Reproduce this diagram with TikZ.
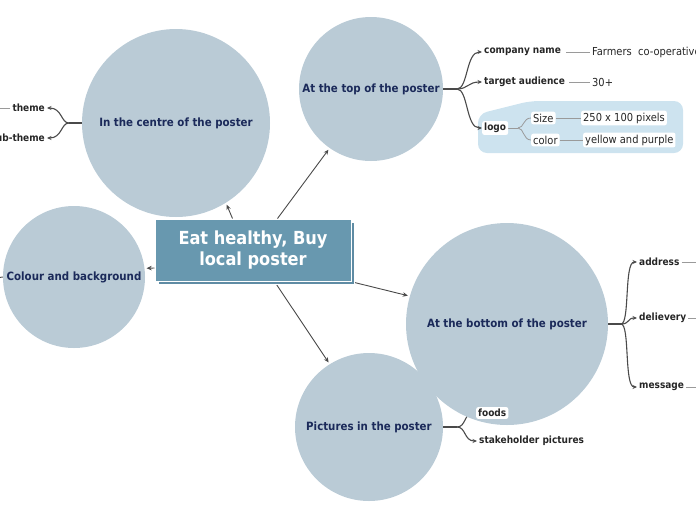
\documentclass[tikz,border=0pt]{standalone}
\usepackage{fontspec}
\setmainfont{DejaVu Sans Condensed}
\usetikzlibrary{arrows.meta}
\definecolor{circ}{HTML}{BACBD6}
\definecolor{navy}{HTML}{1B2A5A}
\definecolor{boxc}{HTML}{6898AF}
\definecolor{boxsh}{HTML}{5F8CA4}
\definecolor{logobg}{HTML}{CDE3EF}
\definecolor{dk}{HTML}{4A4A4A}
\definecolor{gl}{HTML}{9A9A9A}
\pgfdeclarelayer{back}
\pgfdeclarelayer{mid}
\pgfsetlayers{back,mid,main}
\tikzset{
  bubble/.style={circle, fill=circ, text=navy, inner sep=0pt, font=\bfseries\fontsize{11.4}{13}\selectfont},
  title/.style={rectangle, draw=white, line width=1pt, fill=boxc, text=white, minimum width=196pt, minimum height=62pt, align=center, font=\bfseries\fontsize{18}{21}\selectfont},
  titlesh/.style={rectangle, draw=white, line width=0.8pt, fill=boxsh, minimum width=196pt, minimum height=62pt},
  conn/.style={draw=dk, line width=0.9pt, -{Stealth[length=5pt,width=4.5pt]}},
  trunk/.style={draw=dk, line width=1.6pt},
  branch/.style={draw=dk, line width=1.1pt, -{Stealth[length=4.5pt,width=4pt]}},
  lbl/.style={inner sep=2pt, text=black!85, font=\bfseries\fontsize{10}{12}\selectfont},
  wlbl/.style={lbl, fill=white, rounded corners=2pt},
  plain/.style={inner sep=2pt, text=black!85, font=\fontsize{11}{13}\selectfont},
  wplain/.style={plain, fill=white, rounded corners=2pt, inner sep=2pt},
  gline/.style={draw=gl, line width=0.8pt},
}
\begin{document}
\begin{tikzpicture}[x=1pt,y=-1pt]
\useasboundingbox (0,0) rectangle (696,520);
% circles
\node[bubble, minimum size=188pt] (A) at (176,123) {In the centre of the poster};
\node[bubble, minimum size=144pt] (B) at (371,89) {At the top of the poster};
\node[bubble, minimum size=142pt] (C) at (74,277) {Colour and background};
\node[bubble, minimum size=202pt] (D) at (507,324) {At the bottom of the poster};
\node[bubble, minimum size=148pt] (E) at (369,427) {Pictures in the poster};
% central title
\node[titlesh] (centralsh) at (256,253) {};
\node[title] (central) at (253,250) {Eat healthy, Buy\\local poster};
% top branch labels
\node[lbl, anchor=west] (cn) at (482,52) {company name};
\node[plain, anchor=west] (farm) at (590,52) {Farmers\ \ co-operative};
\node[lbl, anchor=west] (ta) at (482,82) {target audience};
\node[plain, anchor=west] (age) at (590,82) {30+};
\node[wlbl, anchor=west] (logo) at (482,128) {logo};
\node[wplain, anchor=west] (size) at (531,118) {Size};
\node[wplain, anchor=west] (px) at (581,118) {250 x 100 pixels};
\node[wplain, anchor=west] (col) at (531,140) {color};
\node[wplain, anchor=west] (yp) at (583,140) {yellow and purple};
% left branch labels
\node[lbl, anchor=east] (theme) at (47,108) {theme};
\node[lbl, anchor=east] (sub) at (47,138) {sub-theme};
\coordinate (thL) at (-3,108);
% right branch labels
\node[lbl, anchor=west] (addr) at (637,262) {address};
\node[lbl, anchor=west] (deli) at (637,318) {delievery};
\node[lbl, anchor=west] (msg) at (637,387) {message};
\coordinate (addrR) at (700,262);
\coordinate (deliR) at (700,318);
\coordinate (msgR) at (700,387);
% pictures branch labels
\node[wlbl, anchor=west] (foods) at (476,413) {foods};
\node[lbl, anchor=west] (stake) at (477,441) {stakeholder pictures};
\coordinate (Cl) at (-4,278);
% junctions
\coordinate (Aj) at (69,123);
\coordinate (Bj) at (457,89);
\coordinate (Dj) at (621,324);
\coordinate (Ej) at (457,427);
\coordinate (Lj) at (518,128);
\begin{pgfonlayer}{back}
  \fill[logobg, rounded corners=9pt] (478,114) -- (530,101) -- (683,101) -- (683,153) -- (478,153) -- cycle;
\end{pgfonlayer}
\begin{pgfonlayer}{mid}
  % central connectors
  \draw[conn, shorten >=2pt] ([xshift=78pt]central.north west) -- (A.-58);
  \draw[conn, shorten >=2pt] ([xshift=123pt]central.north west) -- (B.-125);
  \draw[conn, shorten >=2pt] ([yshift=-18pt]central.west) -- (C.7);
  \draw[conn, shorten >=2pt] ([xshift=3pt,yshift=-1pt]central.south east) -- (D.164);
  \draw[conn, shorten >=2pt] ([xshift=120pt]central.south west) -- (E.122);
  \draw[draw=dk, line width=0.9pt] (C.west) -- (Cl);
  % top circle branch
  \draw[trunk] (B.east) -- (Bj);
  \draw[branch] (Bj) .. controls (468,89) and (466,52) .. (cn.west);
  \draw[branch] (Bj) .. controls (468,89) and (468,82) .. (ta.west);
  \draw[branch] (Bj) .. controls (468,89) and (466,128) .. (logo.west);
  \draw[gline, shorten <=3pt] (cn.east) -- (farm.west);
  \draw[gline, shorten <=2pt] (ta.east) -- (age.west);
  \draw[gline] (logo.east) -- (Lj);
  \draw[gline] (Lj) .. controls (524,128) and (523,118) .. (size.west);
  \draw[gline] (Lj) .. controls (524,128) and (523,140) .. (col.west);
  \draw[gline] (size.east) -- (px.west);
  \draw[gline] (col.east) -- (yp.west);
  % left branch
  \draw[trunk] (A.west) -- (Aj);
  \draw[branch] (Aj) .. controls (61,123) and (62,108) .. (theme.east);
  \draw[branch] (Aj) .. controls (61,123) and (62,138) .. (sub.east);
  \draw[gline] (theme.west) -- (thL);
  % right branch
  \draw[trunk] (D.east) -- (Dj);
  \draw[branch] (Dj) .. controls (630,324) and (624,262) .. (addr.west);
  \draw[branch] (Dj) .. controls (630,324) and (627,318) .. (deli.west);
  \draw[branch] (Dj) .. controls (630,324) and (624,387) .. (msg.west);
  \draw[gline] (addr.east) -- (addrR);
  \draw[gline] (deli.east) -- (deliR);
  \draw[gline] (msg.east) -- (msgR);
  % pictures branch
  \draw[trunk] (E.east) -- (Ej);
  \draw[branch] (Ej) .. controls (466,427) and (464,413) .. (foods.west);
  \draw[branch] (Ej) .. controls (466,427) and (464,441) .. (stake.west);
\end{pgfonlayer}
\end{tikzpicture}
\end{document}
